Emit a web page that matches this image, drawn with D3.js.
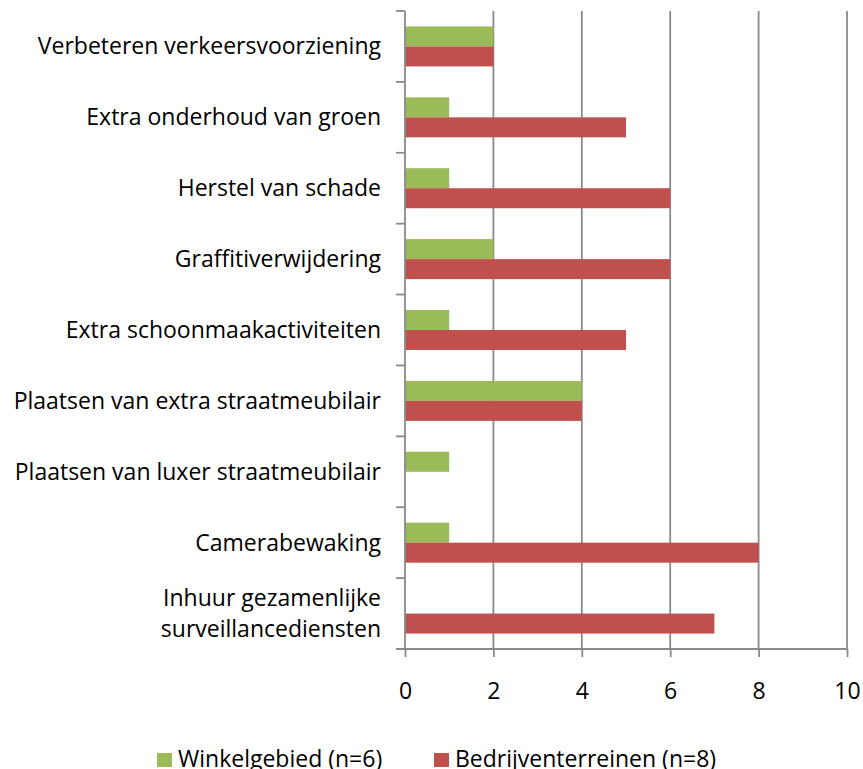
<!DOCTYPE html>
<html><head><meta charset="utf-8">
<script src="https://cdn.jsdelivr.net/npm/d3@7"></script>
<style>body{margin:0;background:#fff}text{font-family:"Open Sans",sans-serif;fill:#000}</style>
</head><body><svg id="c" width="863" height="769"></svg>
<script>
const categories = ["Verbeteren verkeersvoorziening","Extra onderhoud van groen","Herstel van schade","Graffitiverwijdering","Extra schoonmaakactiviteiten","Plaatsen van extra straatmeubilair","Plaatsen van luxer straatmeubilair","Camerabewaking","Inhuur gezamenlijke surveillancediensten"];
const winkelgebied = [2,1,1,2,1,4,1,1,0];
const bedrijventerreinen = [2,5,6,6,5,4,0,8,7];
const seriesNames = ["Winkelgebied (n=6)","Bedrijventerreinen (n=8)"];
const seriesColors = ["#9BBB59","#C0504D"];
const xTicks = [0,2,4,6,8,10];
const labelLines = {"Inhuur gezamenlijke surveillancediensten":["Inhuur gezamenlijke","surveillancediensten"]};

const svg = d3.select("#c");
const pL = 405, pR = 847, pT = 11, pB = 649;
const x = d3.scaleLinear().domain([0,10]).range([pL,pR]);
const y = d3.scaleBand().domain(categories).range([pT,pB]);
const barH = 20;
const fs = 23;
const gridC = "#8a8a8a";

// gridlines
svg.append("g").selectAll("line").data(xTicks.slice(1)).join("line")
  .attr("x1",d=>x(d)).attr("x2",d=>x(d)).attr("y1",pT).attr("y2",pB)
  .attr("stroke",gridC).attr("stroke-width",1.8);

// bars
const series = [winkelgebied, bedrijventerreinen];
series.forEach((vals,si)=>{
  svg.append("g").selectAll("rect").data(categories).join("rect")
    .attr("x",x(0)).attr("width",(d,i)=>x(vals[i])-x(0))
    .attr("y",d=>y(d)+y.bandwidth()/2 - barH + si*barH).attr("height",barH)
    .attr("fill",seriesColors[si]);
});

// x axis
const xa = svg.append("g").attr("transform",`translate(0,${pB})`)
  .call(d3.axisBottom(x).tickValues(xTicks).tickSize(8).tickPadding(26));
xa.select(".domain").attr("stroke",gridC).attr("stroke-width",1.8).attr("d",`M${pL-9},0H${pR}`);
xa.selectAll(".tick line").attr("stroke",gridC).attr("stroke-width",1.8);
xa.selectAll("text").attr("font-size",fs).attr("font-family","Open Sans").attr("fill","#000");

// y axis line and ticks at band boundaries
svg.append("line").attr("x1",pL).attr("x2",pL).attr("y1",pT).attr("y2",pB)
  .attr("stroke",gridC).attr("stroke-width",1.8);
const bounds = categories.map(c=>y(c));
svg.append("g").selectAll("line").data(bounds).join("line")
  .attr("x1",pL-9).attr("x2",pL).attr("y1",d=>d).attr("y2",d=>d)
  .attr("stroke",gridC).attr("stroke-width",1.8);

// category labels
const lg = svg.append("g");
categories.forEach(c=>{
  const lines = labelLines[c] || [c];
  const cy = y(c)+y.bandwidth()/2;
  const lh = 31;
  lines.forEach((l,k)=>{
    lg.append("text").attr("x",381).attr("y",cy + (k-(lines.length-1)/2)*lh)
      .attr("dy","0.35em").attr("text-anchor","end").attr("font-size",fs).text(l);
  });
});

// legend
const leg = svg.append("g");
const legX = [157,434];
seriesNames.forEach((n,i)=>{
  leg.append("rect").attr("x",legX[i]).attr("y",753).attr("width",15).attr("height",14).attr("fill",seriesColors[i]);
  leg.append("text").attr("x",legX[i]+21).attr("y",759).attr("dy","0.35em").attr("font-size",fs).text(n);
});
</script></body></html>
